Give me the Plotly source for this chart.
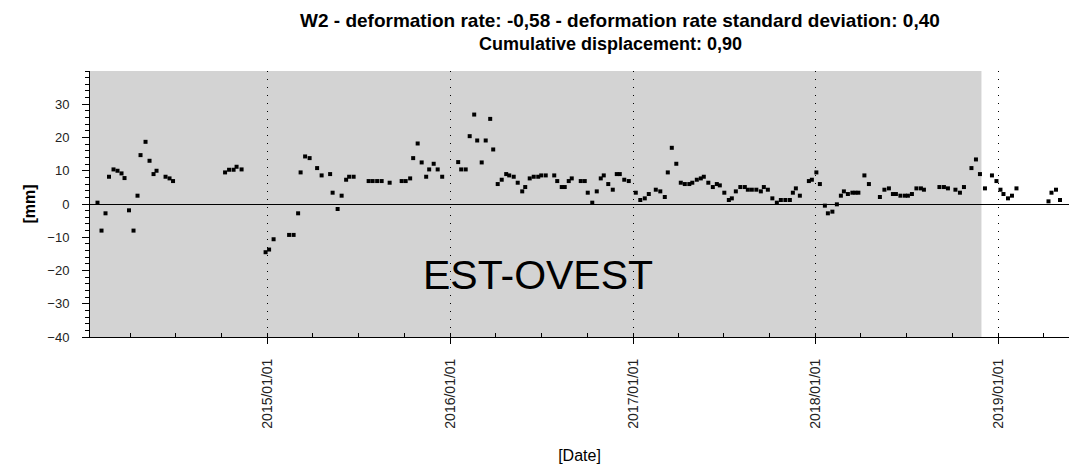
import plotly.graph_objects as go

# Acquisition dates and line-of-sight displacement (mm), east-west component
dates = [
    "2014-01-26", "2014-02-03", "2014-02-11", "2014-02-18", "2014-02-27", "2014-03-07",
    "2014-03-15", "2014-03-21", "2014-03-30", "2014-04-08", "2014-04-16", "2014-04-22",
    "2014-05-02", "2014-05-10", "2014-05-18", "2014-05-24", "2014-06-11", "2014-06-19",
    "2014-06-26", "2014-10-08", "2014-10-16", "2014-10-25", "2014-10-31", "2014-11-10",
    "2014-12-28", "2015-01-04", "2015-01-13", "2015-02-13", "2015-02-22", "2015-03-03",
    "2015-03-08", "2015-03-17", "2015-03-26", "2015-04-10", "2015-04-19", "2015-05-06",
    "2015-05-11", "2015-05-21", "2015-05-29", "2015-06-07", "2015-06-13", "2015-06-22",
    "2015-07-22", "2015-07-30", "2015-08-08", "2015-08-17", "2015-09-02", "2015-09-26",
    "2015-10-04", "2015-10-13", "2015-10-19", "2015-10-28", "2015-11-05", "2015-11-14",
    "2015-11-20", "2015-11-29", "2015-12-07", "2015-12-16", "2016-01-17", "2016-01-23",
    "2016-02-01", "2016-02-09", "2016-02-18", "2016-02-24", "2016-03-04", "2016-03-12",
    "2016-03-21", "2016-03-27", "2016-04-05", "2016-04-13", "2016-04-22", "2016-04-28",
    "2016-05-07", "2016-05-15", "2016-05-24", "2016-05-30", "2016-06-08", "2016-06-16",
    "2016-06-25", "2016-07-01", "2016-07-10", "2016-07-27", "2016-08-02", "2016-08-11",
    "2016-08-17", "2016-08-25", "2016-08-31", "2016-09-18", "2016-09-26", "2016-10-02",
    "2016-10-11", "2016-10-20", "2016-10-28", "2016-11-03", "2016-11-12", "2016-11-21",
    "2016-11-29", "2016-12-05", "2016-12-14", "2016-12-23", "2017-01-06", "2017-01-15",
    "2017-01-24", "2017-02-01", "2017-02-15", "2017-02-24", "2017-03-05", "2017-03-11",
    "2017-03-19", "2017-03-28", "2017-04-06", "2017-04-14", "2017-04-23", "2017-04-29",
    "2017-05-08", "2017-05-16", "2017-05-22", "2017-05-31", "2017-06-09", "2017-06-17",
    "2017-06-23", "2017-07-02", "2017-07-11", "2017-07-17", "2017-07-25", "2017-08-03",
    "2017-08-12", "2017-08-18", "2017-08-26", "2017-09-04", "2017-09-13", "2017-09-19",
    "2017-09-27", "2017-10-06", "2017-10-15", "2017-10-23", "2017-11-01", "2017-11-10",
    "2017-11-16", "2017-11-22", "2017-11-30", "2017-12-18", "2017-12-24", "2018-01-02",
    "2018-01-09", "2018-01-19", "2018-01-25", "2018-02-03", "2018-02-12", "2018-02-20",
    "2018-02-26", "2018-03-06", "2018-03-15", "2018-03-21", "2018-03-27", "2018-04-08",
    "2018-04-17", "2018-05-09", "2018-05-18", "2018-05-27", "2018-06-04", "2018-06-10",
    "2018-06-19", "2018-06-28", "2018-07-04", "2018-07-12", "2018-07-21", "2018-07-30",
    "2018-08-05", "2018-09-05", "2018-09-14", "2018-09-22", "2018-10-07", "2018-10-16",
    "2018-10-24", "2018-11-08", "2018-11-17", "2018-11-25", "2018-12-05", "2018-12-19",
    "2018-12-28", "2019-01-05", "2019-01-11", "2019-01-20", "2019-01-28", "2019-02-06",
    "2019-04-11", "2019-04-17", "2019-04-26", "2019-05-04",
]

displacement_mm = [
    0.4, -8.0, -2.8, 8.2, 10.4, 10.0,
    9.2, 7.8, -1.9, -8.0, 2.5, 14.7,
    18.7, 13.0, 9.0, 10.0, 8.2, 7.7,
    6.9, 9.5, 10.3, 10.3, 11.2, 10.4,
    -14.5, -13.7, -10.6, -9.3, -9.3, -2.8,
    9.5, 14.3, 13.8, 10.8, 8.6, 9.0,
    3.4, -1.5, 2.5, 7.3, 8.2, 8.2,
    6.9, 6.9, 6.9, 6.9, 6.4, 6.9,
    6.9, 7.7, 13.8, 18.2, 12.5, 8.2,
    10.4, 12.1, 10.4, 8.2, 12.6, 10.4,
    10.4, 20.4, 26.9, 19.1, 12.5, 19.1,
    25.6, 16.4, 6.0, 7.3, 9.0, 8.6,
    8.2, 6.4, 3.8, 5.1, 7.7, 8.2,
    8.2, 8.6, 8.6, 8.6, 6.9, 5.1,
    5.1, 6.9, 7.7, 6.9, 6.9, 3.4,
    0.4, 3.8, 7.7, 8.6, 6.0, 4.3,
    9.0, 9.0, 7.3, 6.9, 3.4, 1.2,
    1.7, 3.0, 4.3, 3.8, 2.1, 9.5,
    16.9, 12.1, 6.4, 6.0, 6.0, 6.4,
    7.3, 7.7, 8.2, 6.4, 5.1, 6.0,
    5.6, 3.4, 1.2, 1.7, 3.8, 5.1,
    5.1, 4.3, 4.3, 4.3, 3.8, 5.1,
    4.3, 1.7, 0.4, 1.2, 1.2, 1.2,
    3.4, 4.7, 2.5, 6.9, 7.3, 9.5,
    6.0, -0.5, -2.8, -2.3, -0.1, 2.5,
    3.8, 3.0, 3.4, 3.4, 3.4, 8.6,
    6.0, 2.1, 4.3, 4.7, 3.0, 3.0,
    2.5, 2.5, 2.5, 3.0, 4.7, 4.7,
    4.3, 5.1, 5.1, 4.7, 4.3, 3.4,
    5.1, 10.8, 13.4, 9.0, 4.7, 8.6,
    6.9, 4.3, 3.0, 1.7, 2.5, 4.7,
    0.8, 3.4, 4.3, 1.2,
]

# Axis extents and the shaded analysis period
x_range = ["2014-01-11", "2019-05-22"]
y_range = [-40, 40]
y_ticks = [30, 20, 10, 0, -10, -20, -30, -40]
shade_end = "2018-11-28"

title_lines = [
    "W2 - deformation rate: -0,58 - deformation rate standard deviation: 0,40",
    "Cumulative displacement: 0,90",
]

FONT = "Liberation Sans, Arial, sans-serif"
DOTS = "1px,7px"

fig = go.Figure()
fig.add_trace(go.Scatter(
    x=dates, y=displacement_mm, mode="markers",
    marker=dict(symbol="square", size=4, color="black", line=dict(width=0)),
    showlegend=False, hoverinfo="x+y",
))

# Grey band covering the processed period
fig.add_shape(type="rect", xref="x", yref="paper", x0=x_range[0], x1=shade_end,
              y0=0, y1=1, fillcolor="#d3d3d3", line=dict(width=0), layer="below")

common_x = dict(type="date", range=x_range, tick0="2015-01-01", dtick="M12")
common_y = dict(range=y_range, tick0=0, dtick=10)

fig.update_layout(
    width=1075, height=472,
    margin=dict(l=90, r=6, t=71, b=135),
    paper_bgcolor="white", plot_bgcolor="white",
    font=dict(family=FONT, color="black"),
    xaxis=dict(
        **common_x, tickformat="%Y/%m/%d", tickangle=-90,
        ticks="outside", ticklen=6, tickcolor="black", tickwidth=1,
        ticklabelstandoff=9,
        tickfont=dict(family=FONT, size=14, color="#222"),
        showline=True, linecolor="black", linewidth=1,
        showgrid=True, gridcolor="black", griddash=DOTS, gridwidth=1,
        minor=dict(dtick="M3", tick0="2015-01-01", ticks="inside", ticklen=4,
                   tickcolor="black", showgrid=False),
        title=dict(text="[Date]", standoff=22,
                   font=dict(family=FONT, size=16, color="black")),
        zeroline=False,
    ),
    # crossing half of the bottom ticks
    xaxis2=dict(
        **common_x, overlaying="x", anchor="y", side="bottom",
        ticks="inside", ticklen=5, tickcolor="black", showticklabels=False,
        showline=False, showgrid=False, zeroline=False,
        minor=dict(dtick="M3", tick0="2015-01-01", ticks="outside", ticklen=3,
                   tickcolor="black", showgrid=False),
    ),
    # top frame
    xaxis3=dict(
        **common_x, overlaying="x", anchor="y", side="top",
        ticks="inside", ticklen=6, tickcolor="black", showticklabels=False,
        showline=True, linecolor="black", linewidth=1, showgrid=False, zeroline=False,
        minor=dict(dtick="M3", tick0="2015-01-01", ticks="inside", ticklen=4,
                   tickcolor="black", showgrid=False),
    ),
    yaxis=dict(
        **common_y, tickvals=y_ticks,
        ticks="outside", ticklen=7, tickcolor="black", tickwidth=1,
        ticklabelstandoff=10,
        tickfont=dict(family=FONT, size=13, color="#222"),
        showline=True, linecolor="black", linewidth=1,
        showgrid=False, zeroline=True, zerolinecolor="black", zerolinewidth=1,
        minor=dict(dtick=2, tick0=0, ticks="outside", ticklen=4,
                   tickcolor="black", showgrid=False),
        title=dict(text="[mm]", standoff=7,
                   font=dict(family=FONT, size=16, color="black", weight="bold")),
    ),
    yaxis2=dict(
        **common_y, overlaying="y", anchor="x", side="left",
        ticks="inside", ticklen=8, tickcolor="black", showticklabels=False,
        showline=False, showgrid=False, zeroline=False,
        minor=dict(dtick=2, tick0=0, ticks="inside", ticklen=4,
                   tickcolor="black", showgrid=False),
    ),
    yaxis3=dict(
        **common_y, overlaying="y", anchor="x", side="right",
        ticks="inside", ticklen=7, tickcolor="black", showticklabels=False,
        showline=True, linecolor="black", linewidth=1, showgrid=False, zeroline=False,
        minor=dict(dtick=2, tick0=0, ticks="inside", ticklen=4,
                   tickcolor="black", showgrid=False),
    ),
)

# Two-line heading above the plot area
for line, xpix, ypix, size in zip(title_lines, [620, 610], [20, 44], [19, 18]):
    fig.add_annotation(
        text=f"<b>{line}</b>", xref="paper", yref="paper",
        x=(xpix - 90) / 979, y=(337 - ypix) / 266,
        xanchor="center", yanchor="middle", showarrow=False,
        font=dict(family=FONT, size=size, color="black"),
    )

fig.add_annotation(
    text="EST-OVEST", xref="paper", yref="paper", x=0.4576, y=0.232,
    xanchor="center", yanchor="middle", showarrow=False,
    font=dict(family=FONT, size=41, color="black"),
)

fig.write_html("out.html")
